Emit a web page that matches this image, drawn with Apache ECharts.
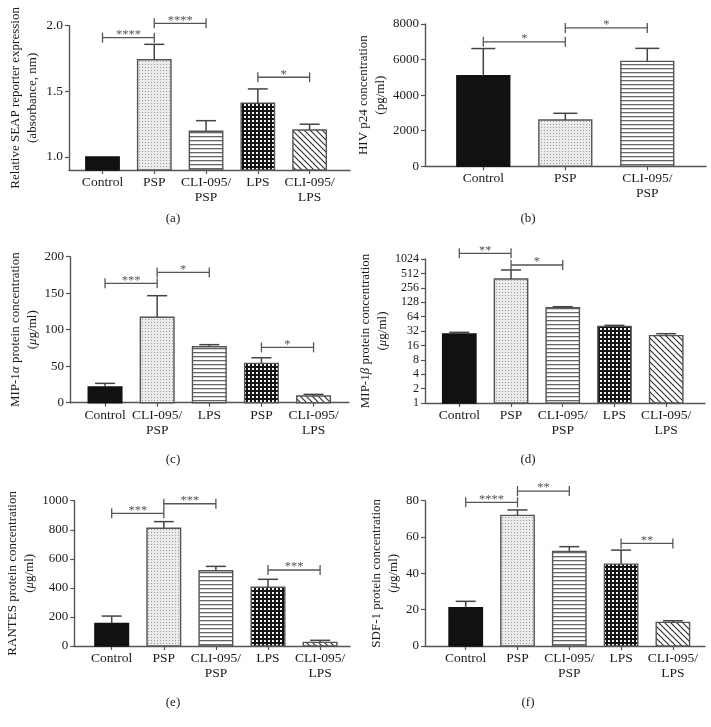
<!DOCTYPE html>
<html><head><meta charset="utf-8">
<script src="https://cdn.jsdelivr.net/npm/echarts@6/dist/echarts.min.js"></script>
<style>html,body{margin:0;padding:0;background:#fff}#c{width:711px;height:727px}</style>
</head><body><div id="c"></div>
<script>
// ---------- DATA ----------
const catsA = ['Control','PSP','CLI-095/\nPSP','LPS','CLI-095/\nLPS'];
const meanA = [1.0, 1.74, 1.195, 1.41, 1.205];
const errA  = [0, 0.118, 0.081, 0.108, 0.044];
const sigA  = [[0,1,1.909,'****'],[1,2,2.018,'****'],[3,4,1.607,'*']];
const ticksA = [1.0, 1.5, 2.0];

const catsB = ['Control','PSP','CLI-095/\nPSP'];
const meanB = [5100, 2600, 5900];
const errB  = [1520, 380, 730];
const sigB  = [[0,1,7000,'*'],[1,2,7780,'*']];
const ticksB = [0, 2000, 4000, 6000, 8000];

const catsC = ['Control','CLI-095/\nPSP','LPS','PSP','CLI-095/\nLPS'];
const meanC = [21.5, 117, 76.7, 53.9, 9.1];
const errC  = [5, 29.6, 2.8, 7.7, 2.3];
const sigC  = [[0,1,163.5,'***'],[1,2,178.5,'*'],[3,4,75.8,'*']];
const ticksC = [0, 50, 100, 150, 200];

const catsD = ['Control','PSP','CLI-095/\nPSP','LPS','CLI-095/\nLPS'];
const meanD = [27.7, 391, 98.4, 40, 25.6];
const errD  = [2.3, 212, 4.6, 2, 2.5];
const sigD  = [[0,1,1345,'**'],[1,2,767,'*']];
const ticksD = [1, 2, 4, 8, 16, 32, 64, 128, 256, 512, 1024];

const catsE = ['Control','PSP','CLI-095/\nPSP','LPS','CLI-095/\nLPS'];
const meanE = [156, 810, 518, 404, 25];
const errE  = [50, 46, 30, 55, 14];
const sigE  = [[0,1,913,'***'],[1,2,979,'***'],[3,4,523,'***']];
const ticksE = [0, 200, 400, 600, 800, 1000];

const catsF = ['Control','PSP','CLI-095/\nPSP','LPS','CLI-095/\nLPS'];
const meanF = [21.1, 71.9, 52.1, 45.1, 13.0];
const errF  = [3.5, 3.0, 2.6, 7.7, 0.9];
const sigF  = [[0,1,79.1,'****'],[1,2,85.3,'**'],[3,4,56.5,'**']];
const ticksF = [0, 20, 40, 60, 80];

const yNames = [
  'Relative SEAP reporter expression\n(absorbance, nm)',
  'HIV p24 concentration\n(pg/ml)',
  'MIP-1{i|α} protein concentration\n({i|μ}g/ml)',
  'MIP-1{i|β} protein concentration\n({i|μ}g/ml)',
  'RANTES protein concentration\n({i|μ}g/ml)',
  'SDF-1 protein concentration\n({i|μ}g/ml)'
];
const captions = ['(a)','(b)','(c)','(d)','(e)','(f)'];

// ---------- STYLE / LAYOUT ----------
const FONT = '"Liberation Serif", "DejaVu Serif", serif';
const TXT = '#1a1a1a';
const AX = '#555';

function tile(w, h, draw){
  const c = document.createElement('canvas'); c.width = w; c.height = h;
  const g = c.getContext('2d'); draw(g); return {image: c, repeat: 'repeat'};
}
const fills = [
  '#111',
  tile(3,3,g=>{g.fillStyle='#ebebeb';g.fillRect(0,0,3,3);g.fillStyle='#9c9c9c';g.fillRect(1,1,1,1);}),
  tile(4,4,g=>{g.fillStyle='#fff';g.fillRect(0,0,4,4);g.fillStyle='#666';g.fillRect(0,0,4,1.3);}),
  tile(4,4,g=>{g.fillStyle='#141414';g.fillRect(0,0,4,4);g.fillStyle='#f4f4f4';g.fillRect(0,0,2,2);}),
  tile(6,6,g=>{g.fillStyle='#fff';g.fillRect(0,0,6,6);g.strokeStyle='#333';g.lineWidth=1.2;
    g.beginPath();g.moveTo(-1,-1);g.lineTo(7,7);g.moveTo(-1,5);g.lineTo(1,7);g.moveTo(5,-1);g.lineTo(7,1);g.stroke();})
];

const panels = [
  {cats:catsA, mean:meanA, err:errA, sig:sigA, ticks:ticksA, grid:{left:69,top:25.7,width:281,height:144.3}, xr:[-0.647,4.78], y:{min:0.9,max:2.0}, fmt:v=>v.toFixed(1), tf:13.5, gap:27.5, cap:20, capPos:[173,219]},
  {cats:catsB, mean:meanB, err:errB, sig:sigB, ticks:ticksB, grid:{left:425,top:24,width:281,height:142.3}, xr:[-0.711,2.716], y:{min:0,max:8000}, fmt:v=>String(v), tf:13, gap:34, cap:24, capPos:[528,219]},
  {cats:catsC, mean:meanC, err:errC, sig:sigC, ticks:ticksC, grid:{left:70,top:256.7,width:279,height:146}, xr:[-0.672,4.68], y:{min:0,max:200}, fmt:v=>String(v), tf:13, gap:28.5, cap:20, capPos:[173,460]},
  {cats:catsD, mean:meanD, err:errD, sig:sigD, ticks:ticksD, grid:{left:425,top:259,width:280,height:144}, xr:[-0.663,4.75], y:{type:'log',logBase:2,min:1,max:1024}, fmt:v=>String(Math.round(v)), tf:12, gap:27.5, cap:20, capPos:[528,460]},
  {cats:catsE, mean:meanE, err:errE, sig:sigE, ticks:ticksE, grid:{left:74.3,top:500.7,width:275.7,height:145.3}, xr:[-0.718,4.574], y:{min:0,max:1000}, fmt:v=>String(v), tf:13, gap:32.8, cap:20, capPos:[173,703]},
  {cats:catsF, mean:meanF, err:errF, sig:sigF, ticks:ticksF, grid:{left:425,top:500.7,width:280,height:145.3}, xr:[-0.786,4.62], y:{min:0,max:80}, fmt:v=>String(v), tf:13, gap:20.5, cap:20, capPos:[528,703]}
];

// ---------- BUILD ----------
const grid=[], xAxis=[], yAxis=[], series=[], graphic=[];
panels.forEach((p, k)=>{
  grid.push(Object.assign({containLabel:false}, p.grid));
  const idx = p.cats.map((_, i)=>i);
  xAxis.push({gridIndex:k, type:'value', min:p.xr[0], max:p.xr[1],
    axisLine:{show:true, onZero:false, lineStyle:{color:AX, width:1.4}},
    axisTick:{show:true, customValues:idx, length:4, lineStyle:{color:AX, width:1.2}},
    axisLabel:{customValues:idx, formatter:v=>p.cats[Math.round(v)], color:TXT, fontFamily:FONT, fontSize:13.5, lineHeight:15, margin:5},
    splitLine:{show:false}});
  yAxis.push(Object.assign({gridIndex:k, type:'value',
    axisLine:{show:true, onZero:false, lineStyle:{color:AX, width:1.4}},
    axisTick:{show:true, customValues:p.ticks, length:4, lineStyle:{color:AX, width:1.2}},
    axisLabel:{customValues:p.ticks, formatter:p.fmt, color:TXT, fontFamily:FONT, fontSize:p.tf, margin:6},
    splitLine:{show:false},
    name:yNames[k], nameLocation:'middle', nameGap:p.gap,
    nameTextStyle:{color:TXT, fontFamily:FONT, fontSize:13, lineHeight:17,
      rich:{i:{fontStyle:'italic', fontFamily:FONT, fontSize:13, color:TXT, lineHeight:17}}}
  }, p.y));
  const base = p.y.min;
  series.push({type:'custom', xAxisIndex:k, yAxisIndex:k, clip:false, z:2,
    data:p.mean.map((v,i)=>[i, v]), encode:{x:0, y:1},
    renderItem:(params, api)=>{
      const i = api.value(0), v = api.value(1);
      const band = api.coord([i+0.5, v])[0] - api.coord([i-0.5, v])[0];
      const w = band*0.645;
      const t = api.coord([i, v]), b = api.coord([i, base]);
      const di = params.dataIndex;
      return {type:'rect', shape:{x:t[0]-w/2, y:t[1], width:w, height:b[1]-t[1]},
        style:{fill:fills[di], stroke:di===0?'#111':'#555', lineWidth:1.4}};
    }});
  series.push({type:'custom', xAxisIndex:k, yAxisIndex:k, clip:false, z:3,
    data:p.mean.map((v,i)=>[i, v, p.err[i]]), encode:{x:0, y:1},
    renderItem:(params, api)=>{
      const i = api.value(0), m = api.value(1), e = api.value(2);
      if(!e) return null;
      const a = api.coord([i, m]), b = api.coord([i, m+e]);
      const st = {stroke:'#444', lineWidth:1.5};
      return {type:'group', children:[
        {type:'line', shape:{x1:a[0],y1:a[1],x2:b[0],y2:b[1]}, style:st},
        {type:'line', shape:{x1:b[0]-p.cap/2,y1:b[1],x2:b[0]+p.cap/2,y2:b[1]}, style:st}
      ]};
    }});
  series.push({type:'custom', xAxisIndex:k, yAxisIndex:k, clip:false, z:4,
    data:p.sig.map(s=>[s[0], s[1], s[2]]), encode:{x:[0,1], y:2},
    renderItem:(params, api)=>{
      const a = api.coord([api.value(0), api.value(2)]);
      const b = api.coord([api.value(1), api.value(2)]);
      const st = {stroke:'#555', lineWidth:1.3};
      const h = 5;
      return {type:'group', children:[
        {type:'line', shape:{x1:a[0],y1:a[1],x2:b[0],y2:b[1]}, style:st},
        {type:'line', shape:{x1:a[0],y1:a[1]-h,x2:a[0],y2:a[1]+h}, style:st},
        {type:'line', shape:{x1:b[0],y1:b[1]-h,x2:b[0],y2:b[1]+h}, style:st},
        {type:'text', style:{x:(a[0]+b[0])/2, y:a[1]-3, text:p.sig[params.dataIndex][3],
          textAlign:'center', textVerticalAlign:'middle', fill:'#555', font:'12.5px '+FONT}}
      ]};
    }});
  graphic.push({type:'text', x:p.capPos[0], y:p.capPos[1],
    style:{text:captions[k], textAlign:'center', textVerticalAlign:'middle', fill:TXT, font:'13px '+FONT}});
});

const chart = echarts.init(document.getElementById('c'), null, {renderer:'canvas'});
chart.setOption({animation:false, backgroundColor:'#fff', grid, xAxis, yAxis, series, graphic});
</script></body></html>
